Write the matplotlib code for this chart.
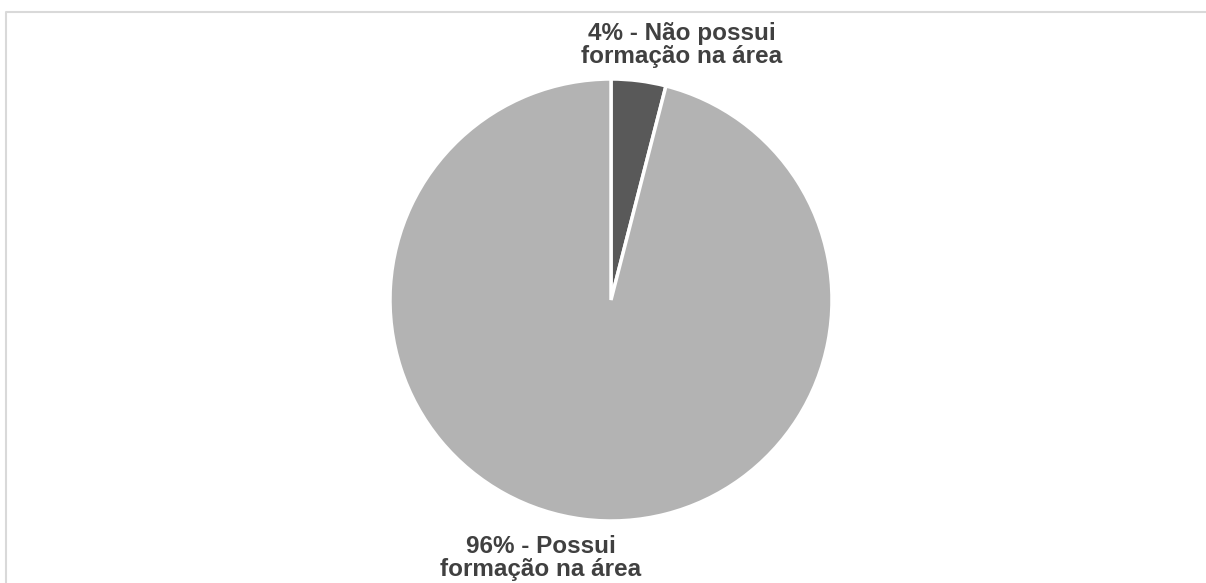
import matplotlib
matplotlib.use("Agg")
import matplotlib.pyplot as plt
from matplotlib.lines import Line2D

categories = ["Não possui formação na área", "Possui formação na área"]
values = [4, 96]
labels = ["4% - Não possui\nformação na área", "96% - Possui\nformação na área"]
colors = ["#595959", "#b3b3b3"]

W, H = 1206, 583
fig = plt.figure(figsize=(W / 100, H / 100), dpi=100)
ax = fig.add_axes([0, 0, 1, 1])

ax.pie(values, colors=colors, startangle=90, counterclock=False,
       center=(611, H - 300), radius=221,
       wedgeprops=dict(edgecolor="white", linewidth=2.5))

ax.set_xlim(0, W)
ax.set_ylim(0, H)
ax.set_aspect("equal")
ax.axis("off")

# frame (top and left edges visible)
ax.add_line(Line2D([5.5, 5.5, W + 10], [-10, H - 11.5, H - 11.5],
                   color="#d9d9d9", linewidth=1.5, clip_on=False))

txt = dict(ha="center", va="center", fontsize=17.5, fontweight="bold",
           color="#404040", family=["Liberation Sans", "DejaVu Sans"],
           linespacing=1.05)
ax.text(682, H - 45, labels[0], **txt)
ax.text(541, H - 558, labels[1], **txt)

fig.savefig("out.png", dpi=100)
